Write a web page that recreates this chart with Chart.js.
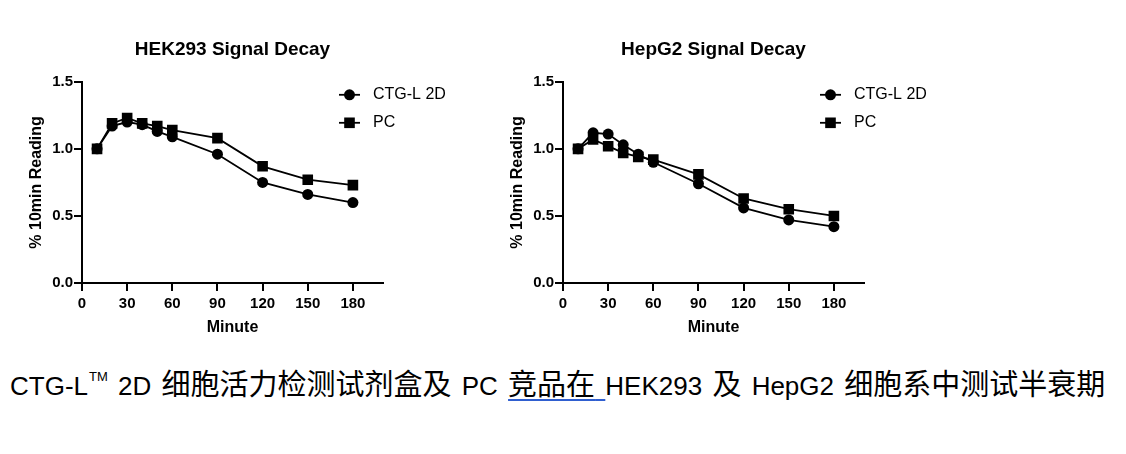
<!DOCTYPE html>
<html>
<head>
<meta charset="utf-8">
<script src="https://cdn.jsdelivr.net/npm/chart.js@4.4.1/dist/chart.umd.min.js"></script>
<style>
  body { margin: 0; background: #fff; width: 1126px; height: 454px; overflow: hidden; position: relative; }
  .box { position: absolute; top: 0; width: 470px; height: 350px; }
  #caption {
    position: absolute; left: 10px; top: 367px; white-space: nowrap;
    font-family: 'Liberation Sans', Arial, 'Noto Sans CJK SC', sans-serif;
    font-size: 26px; line-height: 30px; color: #000; word-spacing: 3px;
  }
  #caption .cjk { font-family: 'Noto Sans CJK SC', sans-serif; font-size: 29px; }
  #caption .tm { font-size: 13px; position: relative; top: -14px; margin-left: 1px; }
  #caption .link { text-decoration: underline; text-decoration-color: #2f5fd0; text-decoration-thickness: 2px; text-underline-offset: 4px; }
</style>
</head>
<body>
<div class="box" style="left:0px"><canvas id="hek"></canvas></div>
<div class="box" style="left:481px"><canvas id="hep"></canvas></div>
<div id="caption">CTG-L<span class="tm">TM</span> 2D <span class="cjk">细胞活力检测试剂盒及</span> PC <span class="link"><span class="cjk">竞品在</span> </span>HEK293 <span class="cjk">及</span> HepG2 <span class="cjk">细胞系中测试半衰期</span></div>

<script>
// данные с графика
const minutes = [10, 20, 30, 40, 50, 60, 90, 120, 150, 180];
const hekCtg = [1.00, 1.17, 1.20, 1.18, 1.13, 1.09, 0.96, 0.75, 0.66, 0.60];
const hekPc  = [1.00, 1.19, 1.23, 1.19, 1.17, 1.14, 1.08, 0.87, 0.77, 0.73];
const hepCtg = [1.00, 1.12, 1.11, 1.03, 0.96, 0.90, 0.74, 0.56, 0.47, 0.42];
const hepPc  = [1.00, 1.07, 1.02, 0.97, 0.94, 0.92, 0.81, 0.63, 0.55, 0.50];
const xTicks = [0, 30, 60, 90, 120, 150, 180];
const yTicks = [0, 0.5, 1.0, 1.5];

Chart.defaults.font.family = "'Liberation Sans', Arial, sans-serif";
Chart.defaults.color = '#000';

// легенда внутри области графика
const insideLegend = {
    id: 'insideLegend',
    afterDraw(chart, args, opts) {
        const ctx = chart.ctx;
        const area = chart.chartArea;
        ctx.save();
        chart.data.datasets.forEach((ds, i) => {
            const x = area.left + opts.left;
            const y = area.top + opts.top + i * opts.gap;
            ctx.strokeStyle = ds.borderColor;
            ctx.lineWidth = ds.borderWidth;
            ctx.beginPath();
            ctx.moveTo(x, y);
            ctx.lineTo(x + opts.lineLength, y);
            ctx.stroke();
            ctx.fillStyle = ds.pointBackgroundColor;
            const cx = x + opts.lineLength / 2;
            if (ds.pointStyle === 'rect') {
                const s = ds.pointRadius * Math.SQRT1_2;
                ctx.fillRect(cx - s, y - s, 2 * s, 2 * s);
            } else {
                ctx.beginPath();
                ctx.arc(cx, y, ds.pointRadius, 0, Math.PI * 2);
                ctx.fill();
            }
            ctx.fillStyle = '#000';
            ctx.font = "16px 'Liberation Sans', Arial, sans-serif";
            ctx.textBaseline = 'middle';
            ctx.textAlign = 'left';
            ctx.fillText(ds.label, x + opts.textOffset, y);
        });
        ctx.restore();
    }
};

function makeChart(id, title, ctgValues, pcValues) {
    const ctx = document.getElementById(id).getContext('2d');
    return new Chart(ctx, {
        type: 'line',
        data: {
            datasets: [{
                label: 'CTG-L 2D',
                data: minutes.map((m, i) => ({ x: m, y: ctgValues[i] })),
                borderColor: '#000',
                borderWidth: 1.8,
                pointStyle: 'circle',
                pointRadius: 5.5,
                pointBackgroundColor: '#000',
                pointBorderWidth: 0,
                order: 1
            }, {
                label: 'PC',
                data: minutes.map((m, i) => ({ x: m, y: pcValues[i] })),
                borderColor: '#000',
                borderWidth: 1.8,
                pointStyle: 'rect',
                pointRadius: 7.5,
                pointBackgroundColor: '#000',
                pointBorderWidth: 0,
                order: 0
            }]
        },
        plugins: [insideLegend],
        options: {
            responsive: true,
            maintainAspectRatio: false,
            animation: false,
            layout: { padding: { left: 0, right: 87, top: 0, bottom: 0 } },
            plugins: {
                legend: { display: false },
                tooltip: { enabled: false },
                title: {
                    display: true,
                    fullSize: false,
                    text: title,
                    font: { size: 19, weight: 'bold' },
                    padding: { top: 38, bottom: 21 }
                },
                insideLegend: { left: 257, top: 13, gap: 28, lineLength: 21, textOffset: 291 - 257 }
            },
            scales: {
                x: {
                    type: 'linear',
                    min: 0,
                    max: 200,
                    afterBuildTicks: s => { s.ticks = xTicks.map(v => ({ value: v })); },
                    afterFit: s => { s.height = 67; },
                    grid: { drawOnChartArea: false, drawTicks: true, tickLength: 8, color: '#000', lineWidth: 2 },
                    border: { color: '#000', width: 2 },
                    ticks: { font: { size: 15, weight: 'bold' }, padding: 4, maxRotation: 0 },
                    title: { display: true, text: 'Minute', font: { size: 16, weight: 'bold' }, padding: { top: 0, bottom: 13 } }
                },
                y: {
                    min: 0,
                    max: 1.5,
                    afterBuildTicks: s => { s.ticks = yTicks.map(v => ({ value: v })); },
                    afterFit: s => { s.width = 82; },
                    grid: { drawOnChartArea: false, drawTicks: true, tickLength: 8, color: '#000', lineWidth: 2 },
                    border: { color: '#000', width: 2 },
                    ticks: { font: { size: 15, weight: 'bold' }, padding: 1, callback: v => v.toFixed(1) },
                    title: { display: true, text: '% 10min Reading', font: { size: 16, weight: 'bold' }, padding: { top: 27, bottom: 0 } }
                }
            }
        }
    });
}

makeChart('hek', 'HEK293 Signal Decay', hekCtg, hekPc);
makeChart('hep', 'HepG2 Signal Decay', hepCtg, hepPc);
</script>
</body>
</html>
